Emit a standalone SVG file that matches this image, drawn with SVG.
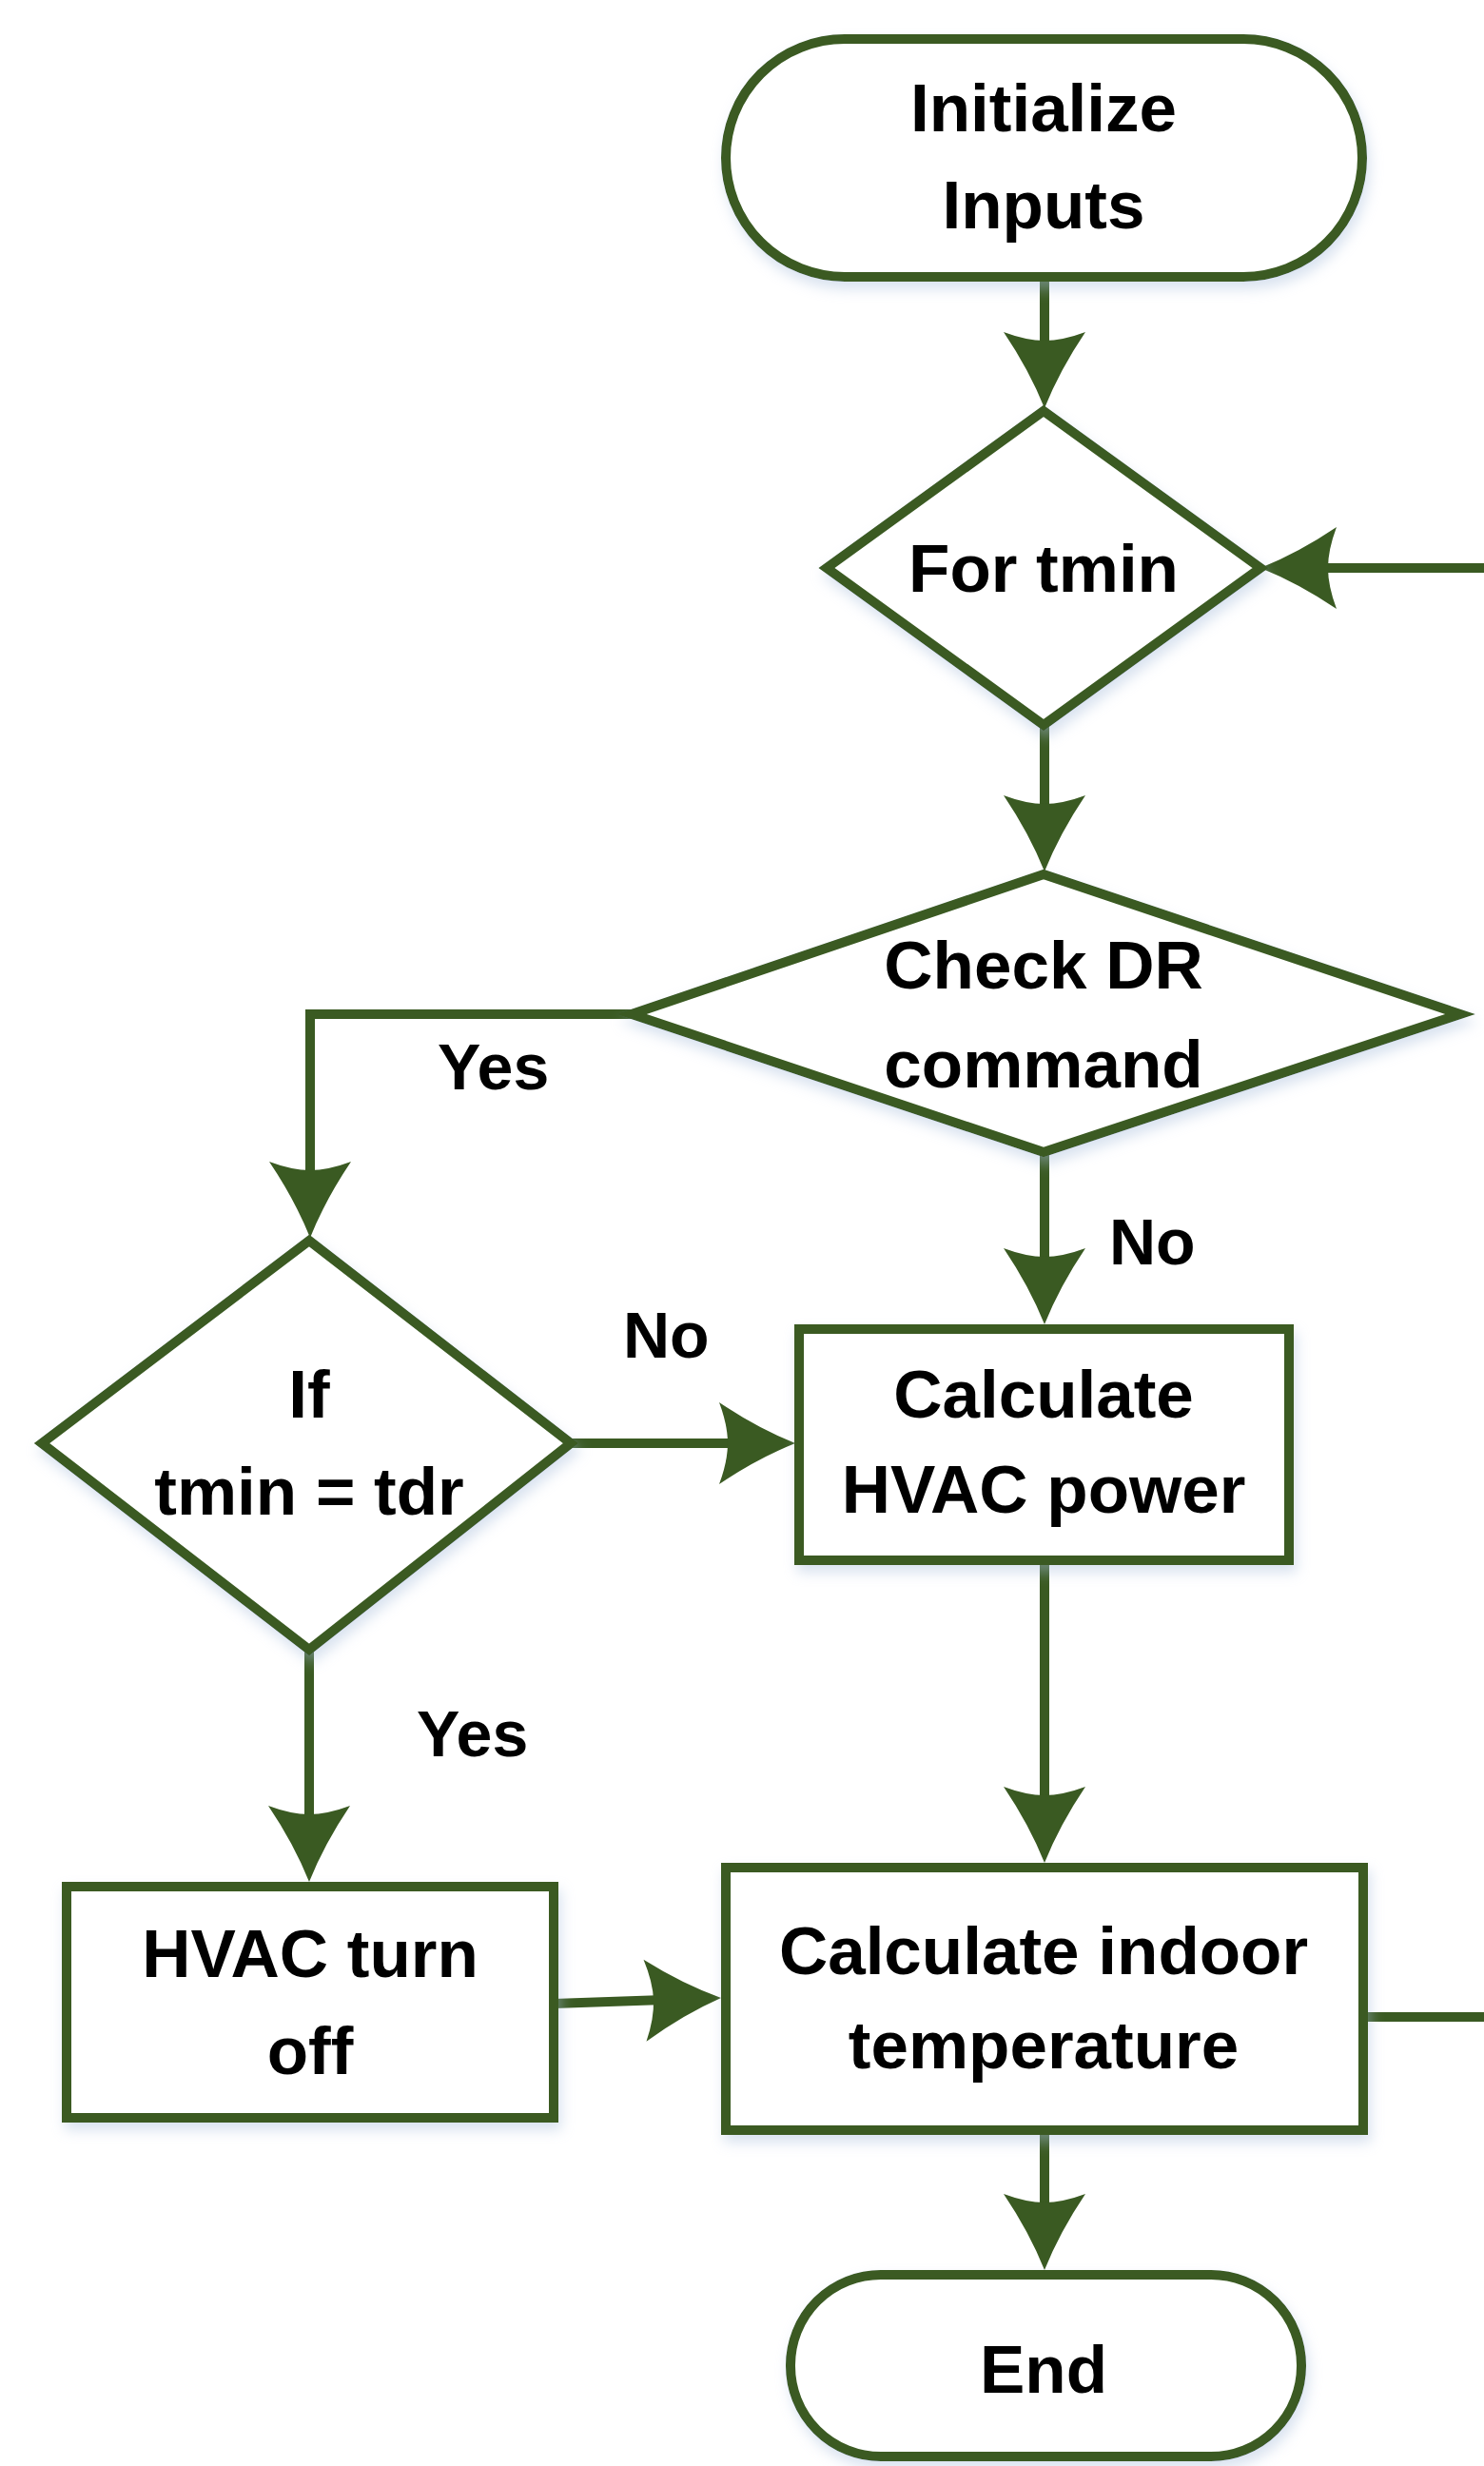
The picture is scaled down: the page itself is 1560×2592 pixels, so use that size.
<svg xmlns="http://www.w3.org/2000/svg" width="1560" height="2592" viewBox="0 0 1560 2592">
<style>
.shape{fill:#ffffff;stroke:#3a5a22;stroke-width:10;stroke-linejoin:miter}
.conn{fill:none;stroke:#3a5a22;stroke-width:10}
.t{font-family:"Liberation Sans",Arial,sans-serif;font-weight:bold;font-size:71px;fill:#000;text-anchor:middle}
.lbl{font-family:"Liberation Sans",Arial,sans-serif;font-weight:bold;font-size:68px;fill:#000}
.node{filter:url(#sh)}
</style>
<defs>
<filter id="sh" x="-20%" y="-20%" width="140%" height="140%">
<feDropShadow dx="3" dy="8" stdDeviation="7" flood-color="#a9c0dd" flood-opacity="0.45"/>
</filter>
<marker id="ah" markerUnits="userSpaceOnUse" markerWidth="90" markerHeight="90" viewBox="-25 -45 90 90" refX="0" refY="0" orient="auto" overflow="visible">
<path d="M60,0 Q20,-16 -20,-43 Q-11,-19 -11,0 Q-11,19 -20,43 Q20,16 60,0 Z" fill="#3a5a22"/>
</marker>
</defs>
<rect width="1560" height="2592" fill="#ffffff"/>
<g id="connectors">
<path class="conn" d="M1098,291 V369" marker-end="url(#ah)"/>
<path class="conn" d="M1098,762 V856" marker-end="url(#ah)"/>
<path class="conn" d="M664,1066 H326 V1241" marker-end="url(#ah)"/>
<path class="conn" d="M1098,1211 V1332" marker-end="url(#ah)"/>
<path class="conn" d="M600,1517 H776" marker-end="url(#ah)"/>
<path class="conn" d="M325,1734 V1918" marker-end="url(#ah)"/>
<path class="conn" d="M1098,1640 V1898" marker-end="url(#ah)"/>
<path class="conn" d="M582,2106 L698,2102" marker-end="url(#ah)"/>
<path class="conn" d="M1098,2239 V2326" marker-end="url(#ah)"/>
<path class="conn" d="M1433,2120 H1600 V597 H1385" marker-end="url(#ah)"/>
</g>
<g id="init" class="node">
<rect class="shape" x="763" y="41" width="669" height="250" rx="125" ry="125"/>
<text class="t" x="1097" y="138">Initialize</text>
<text class="t" x="1097" y="240">Inputs</text>
</g>
<g id="fortmin" class="node">
<polygon class="shape" points="1097,432 1325,597 1097,762 869,597"/>
<text class="t" x="1097" y="622">For tmin</text>
</g>
<g id="checkdr" class="node">
<polygon class="shape" points="1097,919 1535,1066 1097,1211 664,1066"/>
<text class="t" x="1097" y="1039">Check DR</text>
<text class="t" x="1097" y="1143">command</text>
</g>
<g id="calcpower" class="node">
<rect class="shape" x="840" y="1397" width="515" height="243"/>
<text class="t" x="1097" y="1490">Calculate</text>
<text class="t" x="1097" y="1590">HVAC power</text>
</g>
<g id="iftmin" class="node">
<polygon class="shape" points="325,1304 600,1517 325,1734 44,1517"/>
<text class="t" x="325" y="1490">If</text>
<text class="t" x="325" y="1592">tmin = tdr</text>
</g>
<g id="hvacoff" class="node">
<rect class="shape" x="70" y="1983" width="512" height="243"/>
<text class="t" x="326" y="2078">HVAC turn</text>
<text class="t" x="326" y="2180">off</text>
</g>
<g id="indoor" class="node">
<rect class="shape" x="763" y="1963" width="670" height="276"/>
<text class="t" x="1097" y="2075">Calculate indoor</text>
<text class="t" x="1097" y="2174">temperature</text>
</g>
<g id="end" class="node">
<rect class="shape" x="831" y="2391" width="537" height="191" rx="95" ry="95"/>
<text class="t" x="1097" y="2515">End</text>
</g>
<g id="labels">
<text class="lbl" x="460" y="1145">Yes</text>
<text class="lbl" x="1166" y="1329">No</text>
<text class="lbl" x="655" y="1427">No</text>
<text class="lbl" x="438" y="1846">Yes</text>
</g>
</svg>
